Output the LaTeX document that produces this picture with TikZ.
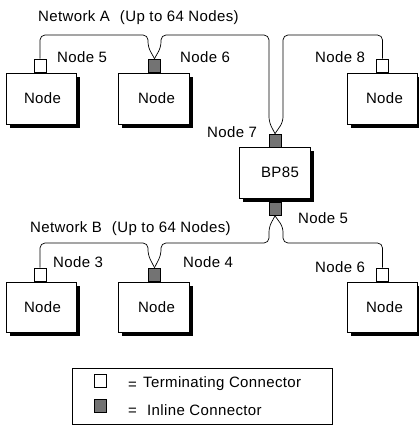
\documentclass[tikz,border=0pt]{standalone}
\usepackage{fontspec}
\setmainfont[LetterSpace=2.5]{Liberation Sans}
\usetikzlibrary{shadows}
\definecolor{conngray}{RGB}{115,115,115}
\begin{document}
\begin{tikzpicture}[x=1pt,y=-1pt,
  box/.style={draw,line width=0.8pt,fill=white,minimum width=70pt,minimum height=51pt,inner sep=0pt,
    font=\fontsize{15}{18}\selectfont,
    drop shadow={shadow xshift=4pt,shadow yshift=-4pt,fill=black,opacity=1}},
  term/.style={draw,line width=0.7pt,fill=white,minimum width=12pt,minimum height=13pt,inner sep=0pt},
  inl/.style={term,fill=conngray},
  lbl/.style={inner sep=0pt,anchor=west,font=\fontsize{15}{18}\selectfont},
  wire/.style={line width=0.7pt,rounded corners=5pt}]
\useasboundingbox (0,0) rectangle (418,425);
% boxes
\node[box] (b1) at (41,98.5) {\hspace*{3pt}Node};
\node[box,minimum width=71pt] (b2) at (153.5,98.5) {\hspace*{6pt}Node};
\node[box] (b3) at (382,98.5) {\hspace*{5pt}Node};
\node[box,minimum width=71pt] (bp) at (274.5,172.5) {\hspace*{11pt}BP85};
\node[box,minimum height=50pt] (b4) at (41,307) {\hspace*{3pt}Node};
\node[box,minimum width=71pt,minimum height=50pt] (b5) at (153.5,307) {\hspace*{6pt}Node};
\node[box,minimum height=50pt] (b6) at (382,307) {\hspace*{5pt}Node};
% connectors
\node[term] (c5) at (40,65.5) {};
\node[inl] (c6) at (154.5,65.5) {};
\node[term] (c8) at (382.5,65.5) {};
\node[inl] (c7t) at (275,140.5) {};
\node[inl] (c7b) at (275,209) {};
\node[term] (c3) at (40,274.5) {};
\node[inl] (c4) at (154.5,274.5) {};
\node[term] (c6b) at (382.5,274.5) {};
% wires
\draw[wire] (c5.north) -- (40,35) -- (148,35) -- (148,47) -- (c6.north);
\draw[wire] (c6.north) -- (161,47) -- (161,35) -- (269,35) -- (269,122) -- (c7t.north);
\draw[wire] (c8.north) -- (382.5,35) -- (283,35) -- (283,122) -- (c7t.north);
\draw[wire] (c7b.south) -- (269,227) -- (269,243) -- (161,243) -- (161,255) -- (c4.north);
\draw[wire] (c4.north) -- (148,255) -- (148,243) -- (40,243) -- (c3.north);
\draw[wire] (c7b.south) -- (283,227) -- (283,243) -- (382.5,243) -- (c6b.north);
% labels
\node[lbl] (nA) at (38,18) {Network A\hspace{10pt}(Up to 64 Nodes)};
\node[lbl] (l5) at (57,57) {Node 5};
\node[lbl] (l6) at (180,57) {Node 6};
\node[lbl] (l8) at (315,57) {Node 8};
\node[lbl] (l7) at (207,132) {Node 7};
\node[lbl] (l5b) at (298,218) {Node 5};
\node[lbl] (nB) at (30,229) {Network B\hspace{10pt}(Up to 64 Nodes)};
\node[lbl] (l3) at (53,262) {Node 3};
\node[lbl] (l4) at (183,262) {Node 4};
\node[lbl] (l6b) at (315,267) {Node 6};
% legend
\draw[line width=0.8pt] (72,368) rectangle (332,424);
\node[term] (lt) at (100,381) {};
\node[inl] (li) at (100,406) {};
\node[lbl] (e1) at (128,386) {=};
\node[lbl] (e2) at (128,412) {=};
\node[lbl] (t1) at (143,384) {Terminating Connector};
\node[lbl] (t2) at (147,410) {Inline Connector};
\end{tikzpicture}
\end{document}
